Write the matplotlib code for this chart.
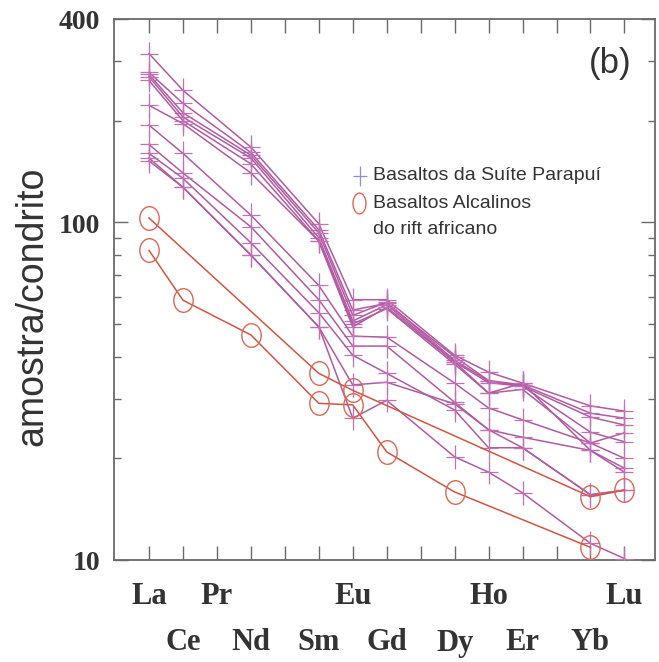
import numpy as np
import matplotlib
matplotlib.use("Agg")
import matplotlib.pyplot as plt
from matplotlib.path import Path
from matplotlib.lines import Line2D
from matplotlib.ticker import FixedLocator, NullFormatter
import matplotlib.transforms as mtransforms

# ---------------- data ----------------
elements = ["La", "Ce", "Pr", "Nd", "Sm", "Eu", "Gd", "Dy", "Ho", "Er", "Yb", "Lu"]
atomic_numbers = [57, 58, 59, 60, 62, 63, 64, 66, 67, 68, 70, 71]
axis_tick_numbers = list(range(57, 72))

# Basaltos da Suite Parapui (normalised to chondrite), Pr not analysed
parapui_1 = [316, 246, None, 167, 99, 59, 59, 40.4, 36.0, 33.4, 28.6, 27.6]
parapui_2 = [278, 225, None, 161, 95, 55, 57.5, 40.0, 34.0, 33.0, 27.2, 26.3]
parapui_3 = [274, 211, None, 158, 93, 53, 58, 39.0, 33.9, 32.7, 26.5, 25.1]
parapui_4 = [270, 205, None, 155, 90, 51, 57, 38.6, 33.5, 32.7, 23.9, 22.4]
parapui_5 = [263, 200, None, 149, 88, 50, 55.5, 38.0, 31.2, 32.0, 22.2, 20.0]
parapui_6 = [222, 196, None, 140, 88, 49, 56, 38.6, 31.2, 33.4, 21.1, 18.7]
parapui_7 = [194, 160, None, 105, 65, 46, 45.7, 33.4, 28.2, 26.0, 22.2, 23.8]
parapui_8 = [170, 140, None, 97, 59, 43, 43, 29.3, 24.3, 23.1, 21.1, 18.2]
parapui_9 = [160, 135, None, 87, 54, 40.4, 35.7, 27.8, 21.5, 21.5, 15.6, 16.1]
parapui_10 = [155, 127, None, 80, 49, 33, 33.6, 29.0, 24.3, 21.5, 15.6, 16.1]
parapui_11 = [152, 127, None, 80, 49, 26.3, 29.7, 20.2, 18.2, 15.8, 11.2, 10.1]
parapui_series = [parapui_1, parapui_2, parapui_3, parapui_4, parapui_5, parapui_6,
                  parapui_7, parapui_8, parapui_9, parapui_10, parapui_11]

# Basaltos Alcalinos do rift africano
alcalino_1 = [103, None, None, None, 35.7, 31.8, None, None, None, None, 15.4, 16.1]
alcalino_2 = [82.6, 58.8, None, 46.4, 29.1, 28.8, 20.9, 15.9, None, None, 10.9, None]
alcalino_series = [alcalino_1, alcalino_2]

y_ticks = [10, 100, 400]
y_tick_labels = ["10", "100", "400"]
y_minor = [20, 30, 40, 50, 60, 70, 80, 90, 200, 300]

legend_labels = ["Basaltos da Suíte Parapuí", "Basaltos Alcalinos", "do rift africano"]

# ---------------- style ----------------
purple_line = "#b25aa2"
purple_marker = "#c271b6"
red_line = "#d4553f"
red_marker = "#e06655"
legend_plus = "#8e8ed8"
text_col = "#333333"
spine_col = "#6a6a6a"

plus_path = Path([(-0.75, 0), (0.75, 0), (0, -1), (0, 1)],
                 [Path.MOVETO, Path.LINETO, Path.MOVETO, Path.LINETO])
t = np.linspace(0, 2 * np.pi, 61)
ellipse_path = Path(np.column_stack([0.82 * np.cos(t), np.sin(t)]), closed=True)

W, H = 659, 662
fig = plt.figure(figsize=(W / 100, H / 100), dpi=100)
ax = fig.add_axes([114 / W, 1 - 560 / H, (655 - 114) / W, (560 - 19) / H])
ax.set_yscale("log")
ax.set_ylim(10, 400)
ax.set_xlim(55.97, 71.9)


def series_xy(vals):
    xs = [a for a, v in zip(atomic_numbers, vals) if v is not None]
    ys = [v for v in vals if v is not None]
    return xs, ys


for s in parapui_series:
    xs, ys = series_xy(s)
    ax.plot(xs, ys, color=purple_line, lw=1.1, marker=plus_path, ms=17,
            mec=purple_marker, mew=0.9, mfc="none", zorder=3)

for s in alcalino_series:
    xs, ys = series_xy(s)
    ax.plot(xs, ys, color=red_line, lw=1.1, marker=ellipse_path, ms=17,
            mec=red_marker, mew=1.0, mfc="none", zorder=4)

# ticks
ax.set_xticks(axis_tick_numbers)
ax.set_xticklabels([])
ax.set_yticks(y_ticks)
ax.set_yticklabels([])
ax.yaxis.set_minor_locator(FixedLocator(y_minor))
ax.yaxis.set_minor_formatter(NullFormatter())
ax.tick_params(axis="both", which="both", direction="in", top=True, right=True,
               color=spine_col, width=1.0)
ax.tick_params(axis="both", which="major", length=10)
ax.tick_params(axis="y", which="minor", length=5)
ax.tick_params(axis="x", which="minor", length=0)
for sp in ax.spines.values():
    sp.set_color(spine_col)
    sp.set_linewidth(1.3)

# y tick labels (slightly below their ticks, as in the original)
yblend = mtransforms.blended_transform_factory(fig.transFigure, ax.transData)
yoff = mtransforms.ScaledTranslation(0, -4 / 100, fig.dpi_scale_trans)
for v, lab in zip(y_ticks, y_tick_labels):
    ax.text(100 / W, v, lab, transform=yblend + yoff, ha="right", va="center",
            fontfamily="Liberation Serif", fontweight="bold", fontsize=20,
            color=text_col, clip_on=False)

# element labels in two rows
blend = mtransforms.blended_transform_factory(ax.transData, fig.transFigure)
for el, z in zip(elements, atomic_numbers):
    yrow = 1 - 596 / H if z % 2 == 1 else 1 - 643 / H
    ax.text(z, yrow, el, transform=blend, ha="center", va="center",
            fontfamily="Liberation Serif", fontweight="bold", fontsize=22,
            color=text_col)

# y label
fig.text(32 / W, 1 - 306 / H, "amostra/condrito", rotation=90, ha="center",
         va="center", fontfamily="Liberation Sans", fontsize=27, color=text_col)

# panel label
fig.text(610 / W, 1 - 64 / H, "(b)", ha="center", va="center",
         fontfamily="Liberation Sans", fontsize=25, color=text_col)

# legend
fig.add_artist(Line2D([360 / W], [1 - 176 / H], transform=fig.transFigure,
                      marker=plus_path, ms=14, mec=legend_plus, mew=0.9,
                      mfc="none", lw=0))
fig.add_artist(Line2D([359 / W], [1 - 203 / H], transform=fig.transFigure,
                      marker=Path(np.column_stack([0.62 * np.cos(t), np.sin(t)]), closed=True),
                      ms=15, mec=red_marker, mew=1.0, mfc="none", lw=0))
for lab, yy in zip(legend_labels, [175, 203, 230]):
    fig.text(373 / W, 1 - yy / H, lab, ha="left", va="center",
             fontfamily="Liberation Sans", fontsize=14, color=text_col)

fig.savefig("out.png", dpi=100)
